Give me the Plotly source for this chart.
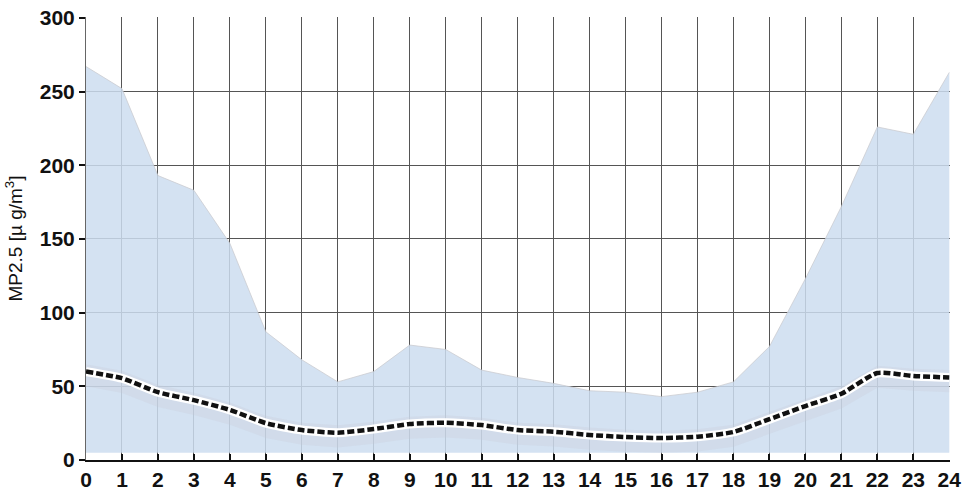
import plotly.graph_objects as go

hours = list(range(25))
upper = [267, 252, 193, 183, 147, 87, 68, 53, 60, 78, 75, 61, 56, 52, 47, 46, 43, 46, 53, 77, 123, 172, 226, 221, 263]
lower = [5] * 25
mean = [60, 55.5, 46, 40.6, 34, 25, 20.3, 18.5, 21, 24.4, 25.3, 23.7, 20.3, 19.2, 17, 15.6, 14.9, 15.8, 19, 27.7, 36.6, 45, 59, 57, 56]
band_lo = [m - 10 for m in mean]
band_hi = [m + 5 for m in mean]

x_ticks = list(range(25))
y_ticks = [0, 50, 100, 150, 200, 250, 300]

fig = go.Figure()
fig.add_trace(go.Scatter(x=hours, y=lower, mode="lines", line=dict(width=0), hoverinfo="skip", showlegend=False))
fig.add_trace(go.Scatter(x=hours, y=upper, mode="lines", line=dict(width=0.8, color="rgba(200,200,205,0.9)"),
                         fill="tonexty", fillcolor="rgba(204,221,240,0.85)", showlegend=False))
fig.add_trace(go.Scatter(x=hours, y=band_lo, mode="lines", line=dict(width=0), hoverinfo="skip", showlegend=False))
fig.add_trace(go.Scatter(x=hours, y=band_hi, mode="lines", line=dict(width=0),
                         fill="tonexty", fillcolor="rgba(200,200,210,0.25)", showlegend=False))
fig.add_trace(go.Scatter(x=hours, y=mean, mode="lines", line=dict(width=9, color="white", shape="spline", smoothing=0.6), showlegend=False))
fig.add_trace(go.Scatter(x=hours, y=mean, mode="lines", line=dict(width=4.5, color="#111", dash="7px,3px", shape="spline", smoothing=0.6), showlegend=False))

font = dict(family="Liberation Sans, Arial", size=21, color="#111", weight="bold")
fig.update_layout(
    width=963, height=497,
    margin=dict(l=86, r=13, t=17, b=37),
    plot_bgcolor="white", paper_bgcolor="white",
    font=font,
    xaxis=dict(range=[0, 24.02], tickvals=x_ticks, ticktext=[str(v) for v in x_ticks],
               showgrid=True, gridcolor="#555", gridwidth=1, zeroline=False, automargin=False,
               showline=True, linecolor="#111", linewidth=2, ticks="inside", ticklen=6,
               tickcolor="#111", tickwidth=1.5, tickfont=font),
    yaxis=dict(range=[0, 300.6], tickvals=y_ticks, ticktext=[str(v) for v in y_ticks],
               showgrid=True, gridcolor="#555", gridwidth=1, zeroline=False, automargin=False,
               showline=True, linecolor="#666", linewidth=1, ticks="outside", ticklen=6,
               tickcolor="#111", tickwidth=1.5, tickfont=font,
               title=dict(text="MP2.5 [µ g/m<sup>3</sup>]", font=dict(family="Liberation Sans, Arial", size=19, color="#111", weight="normal"), standoff=12)),
)
fig.write_html("out.html", config={"displayModeBar": False},
               post_script="document.body.style.margin='0';document.body.style.padding='0';")
